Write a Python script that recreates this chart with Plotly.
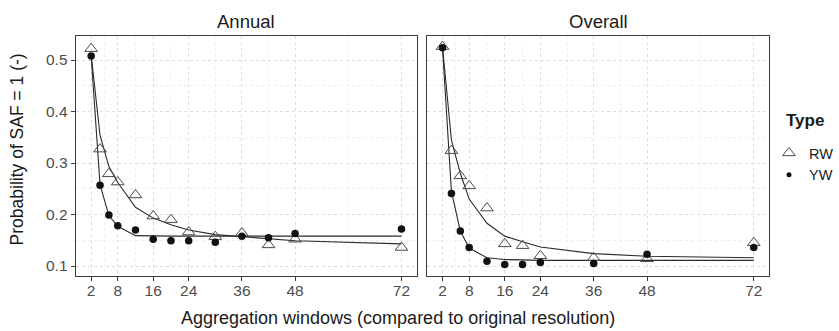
import plotly.graph_objects as go

# ---------------- data ----------------
windows_annual = [2, 4, 6, 8, 12, 16, 20, 24, 30, 36, 42, 48, 72]
windows_overall = [2, 4, 6, 8, 12, 16, 20, 24, 36, 48, 72]

annual_rw = [0.522, 0.327, 0.279, 0.263, 0.238, 0.197, 0.190, 0.166, 0.157, 0.164, 0.141, 0.152, 0.136]
annual_yw = [0.508, 0.257, 0.199, 0.178, 0.170, 0.152, 0.149, 0.149, 0.146, 0.158, 0.155, 0.163, 0.172]
annual_rw_fit = [0.510, 0.354, 0.293, 0.262, 0.214, 0.193, 0.180, 0.170, 0.161, 0.157, 0.152, 0.149, 0.143]
annual_yw_fit = [0.508, 0.258, 0.198, 0.177, 0.159, 0.158, 0.158, 0.158, 0.158, 0.158, 0.158, 0.158, 0.158]

overall_rw = [0.526, 0.324, 0.275, 0.2555, 0.2125, 0.143, 0.1395, 0.120, 0.116, 0.114, 0.145]
overall_yw = [0.524, 0.241, 0.168, 0.136, 0.109, 0.103, 0.103, 0.107, 0.105, 0.123, 0.136]
overall_rw_fit = [0.525, 0.345, 0.280, 0.230, 0.183, 0.158, 0.147, 0.137, 0.124, 0.119, 0.116]
overall_yw_fit = [0.524, 0.245, 0.168, 0.135, 0.116, 0.1125, 0.112, 0.111, 0.111, 0.111, 0.111]

x_ticks = [2, 8, 16, 24, 36, 48, 72]
x_minor = [5, 12, 20, 30, 42, 60]
y_ticks = [0.1, 0.2, 0.3, 0.4, 0.5]
y_minor = [0.15, 0.25, 0.35, 0.45]
panel_titles = ["Annual", "Overall"]
legend_title = "Type"
x_title = "Aggregation windows (compared to original resolution)"
y_title = "Probability of SAF = 1 (-)"

# ---------------- styling ----------------
W, H = 839, 331
FONT = "Liberation Sans, Arial, sans-serif"
LINE_COL = "#2b2b2b"
TRI_COL = "#4a4a4a"
DOT_COL = "#111111"
GRID_DASH = "3px,3px"

fig = go.Figure()

panels = [
    ("x", "y", windows_annual, annual_rw, annual_yw, annual_rw_fit, annual_yw_fit),
    ("x2", "y2", windows_overall, overall_rw, overall_yw, overall_rw_fit, overall_yw_fit),
]
for xa, ya, xs, rw, yw, rwf, ywf in panels:
    for fit in (rwf, ywf):
        fig.add_trace(go.Scatter(x=xs, y=fit, mode="lines", xaxis=xa, yaxis=ya,
                                 line=dict(color=LINE_COL, width=1.1),
                                 showlegend=False, hoverinfo="skip"))
    fig.add_trace(go.Scatter(x=xs, y=rw, mode="markers", xaxis=xa, yaxis=ya, name="RW",
                             marker=dict(symbol="triangle-up-open", size=11, color=TRI_COL,
                                         line=dict(width=1, color=TRI_COL)),
                             showlegend=False))
    fig.add_trace(go.Scatter(x=xs, y=yw, mode="markers", xaxis=xa, yaxis=ya, name="YW",
                             marker=dict(symbol="circle", size=7.5, color=DOT_COL),
                             showlegend=False))

# legend entries
fig.add_trace(go.Scatter(x=[None], y=[None], mode="markers", name="RW",
                         marker=dict(symbol="triangle-up-open", size=11, color=TRI_COL,
                                     line=dict(width=1, color=TRI_COL)), showlegend=True))
fig.add_trace(go.Scatter(x=[None], y=[None], mode="markers", name="YW",
                         marker=dict(symbol="circle", size=5, color=DOT_COL), showlegend=True))

def px_x(p):
    return p / W

def px_y(p):
    return 1 - p / H

axis_common = dict(
    showline=True, mirror=True, linecolor="#3a3a3a", linewidth=1,
    ticks="outside", ticklen=4, tickwidth=1, tickcolor="#3a3a3a",
    showgrid=True, gridcolor="#dcdcdc", griddash=GRID_DASH, gridwidth=1,
    zeroline=False,
    tickfont=dict(family=FONT, size=15.5, color="#4d4d4d"),
)

xaxis_cfg = dict(axis_common, range=[-1.5, 75.5], tickmode="array", tickvals=x_ticks,
                 ticktext=[str(v) for v in x_ticks], ticklabelstandoff=-4,
                 minor=dict(tickvals=x_minor, showgrid=True, gridcolor="#eeeeee",
                            griddash=GRID_DASH, gridwidth=1, ticks=""))
yaxis_cfg = dict(axis_common, range=[0.0806, 0.5466], tickmode="array", tickvals=y_ticks,
                 ticktext=[f"{v:.1f}" for v in y_ticks],
                 minor=dict(tickvals=y_minor, showgrid=True, gridcolor="#eeeeee",
                            griddash=GRID_DASH, gridwidth=1, ticks=""))

y_dom = [px_y(276), px_y(36)]
fig.update_layout(
    width=W, height=H, autosize=False,
    margin=dict(l=0, r=0, t=0, b=0),
    paper_bgcolor="white", plot_bgcolor="white",
    font=dict(family=FONT, color="#1a1a1a"),
    xaxis=dict(xaxis_cfg, domain=[px_x(76), px_x(419)], anchor="y"),
    xaxis2=dict(xaxis_cfg, domain=[px_x(429), px_x(773)], anchor="y2"),
    yaxis=dict(yaxis_cfg, domain=y_dom, anchor="x"),
    yaxis2=dict(yaxis_cfg, domain=y_dom, anchor="x2", showticklabels=False, ticks=""),
    showlegend=True,
    legend=dict(x=px_x(773), y=px_y(137), xanchor="left", yanchor="top",
                font=dict(family=FONT, size=14.5, color="#1a1a1a"),
                bgcolor="rgba(0,0,0,0)", borderwidth=0, itemwidth=30,
                tracegroupgap=0),
)

annotations = [
    dict(text=panel_titles[0], x=px_x(247), y=px_y(21), font=dict(size=18.5)),
    dict(text=panel_titles[1], x=px_x(601), y=px_y(21), font=dict(size=18.5)),
    dict(text=x_title, x=px_x(400), y=px_y(318), font=dict(size=18)),
    dict(text=y_title, x=px_x(17.5), y=px_y(149), textangle=-90, font=dict(size=17.5)),
    dict(text="<b>" + legend_title + "</b>", x=px_x(788), y=px_y(120), xanchor="left",
         font=dict(size=17)),
]
for a in annotations:
    a.setdefault("xanchor", "center")
    a.update(xref="paper", yref="paper", yanchor="middle", showarrow=False)
    a["font"] = dict(family=FONT, color="#1a1a1a", **a["font"])
fig.update_layout(annotations=annotations)

fig.write_html(
    "out.html",
    config={"displayModeBar": False},
    post_script="document.body.style.margin='0';document.body.style.overflow='hidden';",
)
